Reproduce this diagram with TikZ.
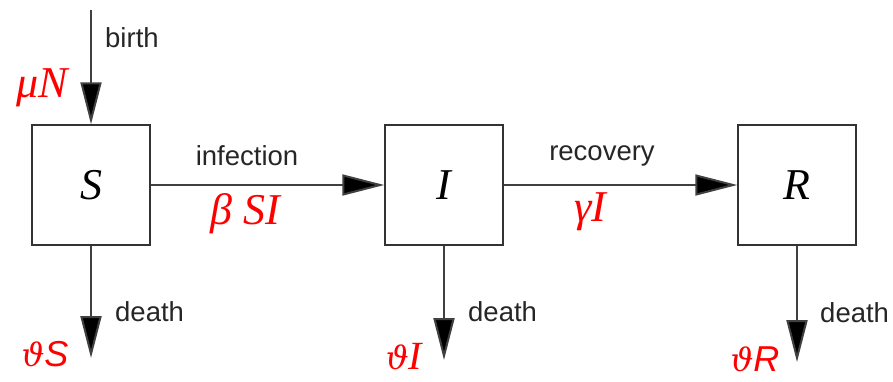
\documentclass[tikz,border=0pt]{standalone}
\usepackage{fontspec}
\setmainfont{Liberation Serif}
\newfontfamily\lab{Liberation Sans}
\newfontfamily\thetafont{DejaVu Serif}
\usetikzlibrary{arrows.meta}
\begin{document}
\begin{tikzpicture}[x=1pt,y=-1pt,
  comp/.style={draw=black!80,line width=1.5pt,minimum width=118pt,minimum height=120pt,inner sep=0pt,font=\fontsize{44}{48}\selectfont\itshape},
  flow/.style={draw=black!75,line width=2pt,-{Triangle[length=42pt,width=21pt,fill=black]}},
  lbl/.style={font=\lab\fontsize{27.5}{30}\selectfont,text=black!85,inner sep=0pt},
  rate/.style={text=red,inner sep=0pt,font=\fontsize{44}{48}\selectfont\itshape},
  lowrate/.style={text=red,inner sep=0pt,font=\fontsize{40}{42}\selectfont\itshape},
  th/.style={}]
\useasboundingbox (0,0) rectangle (893,381);
\node[comp] (S) at (91,185) {S};
\node[comp] (I) at (444,185) {I};
\node[comp] (R) at (797,185) {R};
\coordinate (top) at (91,10);
\coordinate (dS) at (91,358);
\coordinate (dI) at (444,360);
\coordinate (dR) at (797,362);
\draw[flow] (top) -- (S.north);
\draw[flow] (S.east) -- (I.west);
\draw[flow] (I.east) -- (R.west);
\draw[flow] (S.south) -- (dS);
\draw[flow] (I.south) -- (dI);
\draw[flow] (R.south) -- (dR);
\node[lbl,anchor=west] (lb) at (105,38) {birth};
\node[rate] (mu) at (42,88) {μN};
\node[lbl] (li) at (247,156) {infection};
\node[rate] (be) at (245,214) {β SI};
\node[lbl] (lr) at (602,156) {recovery};
\node[rate] (ga) at (590,212) {γI};
\node[lbl,anchor=west] (d1) at (115,312) {death};
\node[lbl,anchor=west] (d2) at (468,312) {death};
\node[lbl,anchor=west] (d3) at (820,313) {death};
\node[lowrate] (vS) at (45,354) {{\thetafont\fontsize{32}{36}\selectfont\itshape ϑ}{\lab\fontsize{36}{38}\selectfont\itshape S}};
\node[lowrate] (vI) at (404,357) {{\thetafont\fontsize{32}{36}\selectfont\itshape ϑ}I};
\node[lowrate] (vR) at (755,359) {{\thetafont\fontsize{32}{36}\selectfont\itshape ϑ}{\lab\fontsize{36}{38}\selectfont\itshape R}};
\end{tikzpicture}
\end{document}
